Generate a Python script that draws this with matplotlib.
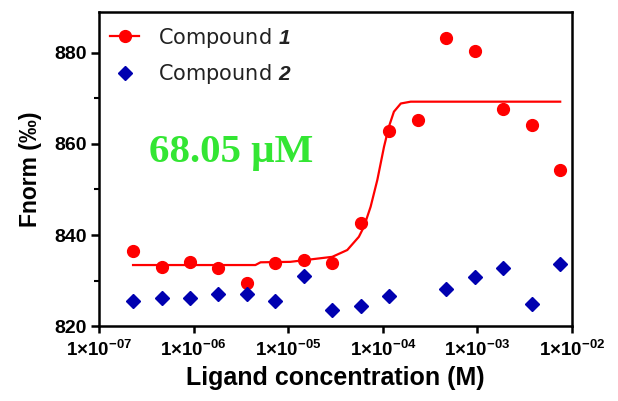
import numpy as np
import matplotlib
matplotlib.use("Agg")
import matplotlib.pyplot as plt
from matplotlib.ticker import FixedLocator, MultipleLocator, NullLocator

plt.rcParams['mathtext.fontset'] = 'custom'
plt.rcParams['mathtext.rm'] = 'Liberation Sans:bold'
plt.rcParams['mathtext.bf'] = 'Liberation Sans:bold:italic'
plt.rcParams['mathtext.it'] = 'Liberation Sans:bold:italic'

# ---- data ----
conc = [2.29e-7, 4.58e-7, 9.16e-7, 1.83e-6, 3.66e-6, 7.32e-6, 1.46e-5, 2.93e-5,
        5.86e-5, 1.17e-4, 2.34e-4, 4.69e-4, 9.38e-4, 1.88e-3, 3.75e-3, 7.5e-3]
comp1 = [836.5, 833.0, 834.1, 832.7, 829.4, 833.8, 834.4, 833.8,
         842.7, 862.9, 865.3, 883.2, 880.4, 867.7, 864.2, 854.2]
comp2 = [825.5, 826.2, 826.2, 827.1, 827.1, 825.5, 831.0, 823.5,
         824.5, 826.5, np.nan, 828.1, 830.7, 832.7, 824.8, 833.6]
fit_x = [2.29e-7, 4.5e-6, 5.1e-6, 1.05e-5, 1.52e-5, 2.92e-5, 4.21e-5, 5.58e-5,
         6.31e-5, 7.43e-5, 8.75e-5, 1.03e-4, 1.16e-4, 1.31e-4, 1.55e-4, 1.97e-4, 7.5e-3]
fit_y = [833.4, 833.4, 834.0, 834.1, 834.5, 835.2, 836.7, 839.6,
         841.8, 846.2, 852.1, 859.4, 863.8, 867.1, 868.9, 869.3, 869.3]
xticks = [1e-7, 1e-6, 1e-5, 1e-4, 1e-3, 1e-2]
xticklabels = ["1×10$^{-07}$", "1×10$^{-06}$", "1×10$^{-05}$",
               "1×10$^{-04}$", "1×10$^{-03}$", "1×10$^{-02}$"]
yticks = [820, 840, 860, 880]
kd_label = "68.05 μM"

red = '#ff0000'
blue = '#0000b0'

fig = plt.figure(figsize=(6.18, 4.01), dpi=100)
ax = fig.add_axes([0.1602, 0.187, 0.7654, 0.783])

ax.plot(fit_x, fit_y, color=red, lw=1.6, zorder=2)
ax.plot(conc, comp1, 'o', color=red, ms=8.5, zorder=3)
ax.plot(conc, comp2, 'D', color=blue, ms=7.5, zorder=3)

ax.set_xscale('log')
ax.set_xlim(1e-7, 1e-2)
ax.set_ylim(820, 889)
ax.xaxis.set_major_locator(FixedLocator(xticks))
ax.xaxis.set_minor_locator(NullLocator())
ax.set_xticklabels(xticklabels, fontfamily='Liberation Sans', fontweight='bold', fontsize=13.5)
ax.yaxis.set_major_locator(FixedLocator(yticks))
ax.yaxis.set_minor_locator(MultipleLocator(10))
for lbl in ax.get_yticklabels():
    lbl.set_fontfamily('Liberation Sans'); lbl.set_fontweight('bold'); lbl.set_fontsize(14)

for s in ax.spines.values():
    s.set_linewidth(1.8)
ax.tick_params(which='major', direction='out', length=6, width=1.8, pad=3, color='black')
ax.tick_params(which='minor', direction='out', length=3.5, width=1.5)
ax.tick_params(axis='x', which='major', length=5, pad=5)

ax.set_xlabel('Ligand concentration (M)', fontfamily='Liberation Sans', fontweight='bold',
              fontsize=18, labelpad=4)
ax.set_ylabel('Fnorm (‰)', fontfamily='Liberation Sans', fontweight='bold', fontsize=16.5, labelpad=9)

ax.text(0.105, 0.553, kd_label, transform=ax.transAxes, color='#33e633',
        fontfamily='Liberation Serif', fontweight='bold', fontsize=29.5, va='center', ha='left')

h1, = ax.plot([], [], '-o', color=red, lw=1.6, ms=8.5)
h2, = ax.plot([], [], 'D', color=blue, ms=7.5, lw=0)
leg = ax.legend([h1, h2], ["Compound $\\mathbf{1}$", "Compound $\\mathbf{2}$"],
                loc='upper left', bbox_to_anchor=(-0.005, 1.0), frameon=False,
                prop={'family': 'DejaVu Sans', 'size': 15},
                handlelength=1.4, handletextpad=0.9, labelspacing=0.62, borderaxespad=0.25)
for t in leg.get_texts():
    t.set_color('#222222')

fig.savefig('out.png', dpi=100)
